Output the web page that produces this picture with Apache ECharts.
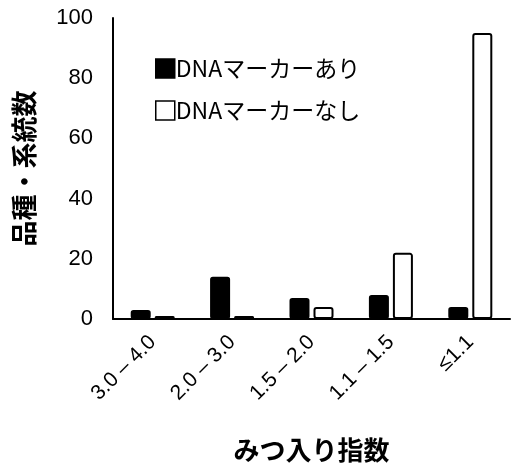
<!DOCTYPE html>
<html><head><meta charset="utf-8">
<script src="https://cdn.jsdelivr.net/npm/echarts@6/dist/echarts.min.js"></script>
<style>html,body{margin:0;padding:0;background:#fff}#c{width:513px;height:468px}</style>
</head><body><div id="c"></div>
<script>
const categories = ["3.0 – 4.0", "2.0 – 3.0", "1.5 – 2.0", "1.1 – 1.5", "≤1.1"];
const withMarker = [3, 14, 7, 8, 4];
const withoutMarker = [1, 1, 4, 22, 95];
const seriesNames = ["DNAマーカーあり", "DNAマーカーなし"];
const yTicks = {min: 0, max: 100, interval: 20};

const chart = echarts.init(document.getElementById('c'), null, {renderer: 'canvas'});
const font = '"Liberation Sans", Arial, sans-serif';
const jp = '"Noto Sans CJK JP", sans-serif';
chart.setOption({
  animation: false,
  grid: {left: 113, right: 3, top: 18, bottom: 145, containLabel: false},
  legend: {
    left: 150, top: 52, orient: 'vertical', itemGap: 19,
    itemWidth: 19, itemHeight: 19, itemStyle: {borderColor: '#000', borderWidth: 1.5},
    icon: 'rect',
    textStyle: {fontFamily: jp, fontSize: 23, color: '#000', padding: [0, 0, 0, -4]},
    data: seriesNames
  },
  xAxis: {
    type: 'category', data: categories,
    axisLine: {lineStyle: {color: '#000', width: 2}},
    axisTick: {show: false},
    axisLabel: {rotate: 45, fontFamily: font, fontSize: 21, color: '#000', margin: 20, interval: 0},
    name: 'みつ入り指数', nameLocation: 'middle', nameGap: 118,
    nameTextStyle: {fontFamily: jp, fontSize: 26, fontWeight: 'bold', color: '#000'}
  },
  yAxis: {
    type: 'value', min: yTicks.min, max: yTicks.max, interval: yTicks.interval,
    axisLine: {show: true, lineStyle: {color: '#000', width: 2}},
    axisTick: {show: false},
    splitLine: {show: false},
    axisLabel: {fontFamily: font, fontSize: 22, color: '#000', margin: 20},
    name: '品種・系統数', nameLocation: 'middle', nameGap: 76, nameRotate: 90,
    nameTextStyle: {fontFamily: jp, fontSize: 26, fontWeight: 'bold', color: '#000'}
  },
  series: [
    {name: seriesNames[0], type: 'bar', data: withMarker, barWidth: 20, barGap: '20%',
     itemStyle: {color: '#000', borderColor: '#000', borderWidth: 1.5, borderRadius: 2}},
    {name: seriesNames[1], type: 'bar', data: withoutMarker, barWidth: 20,
     itemStyle: {color: '#fff', borderColor: '#000', borderWidth: 2, borderRadius: 2}}
  ]
});
</script></body></html>
